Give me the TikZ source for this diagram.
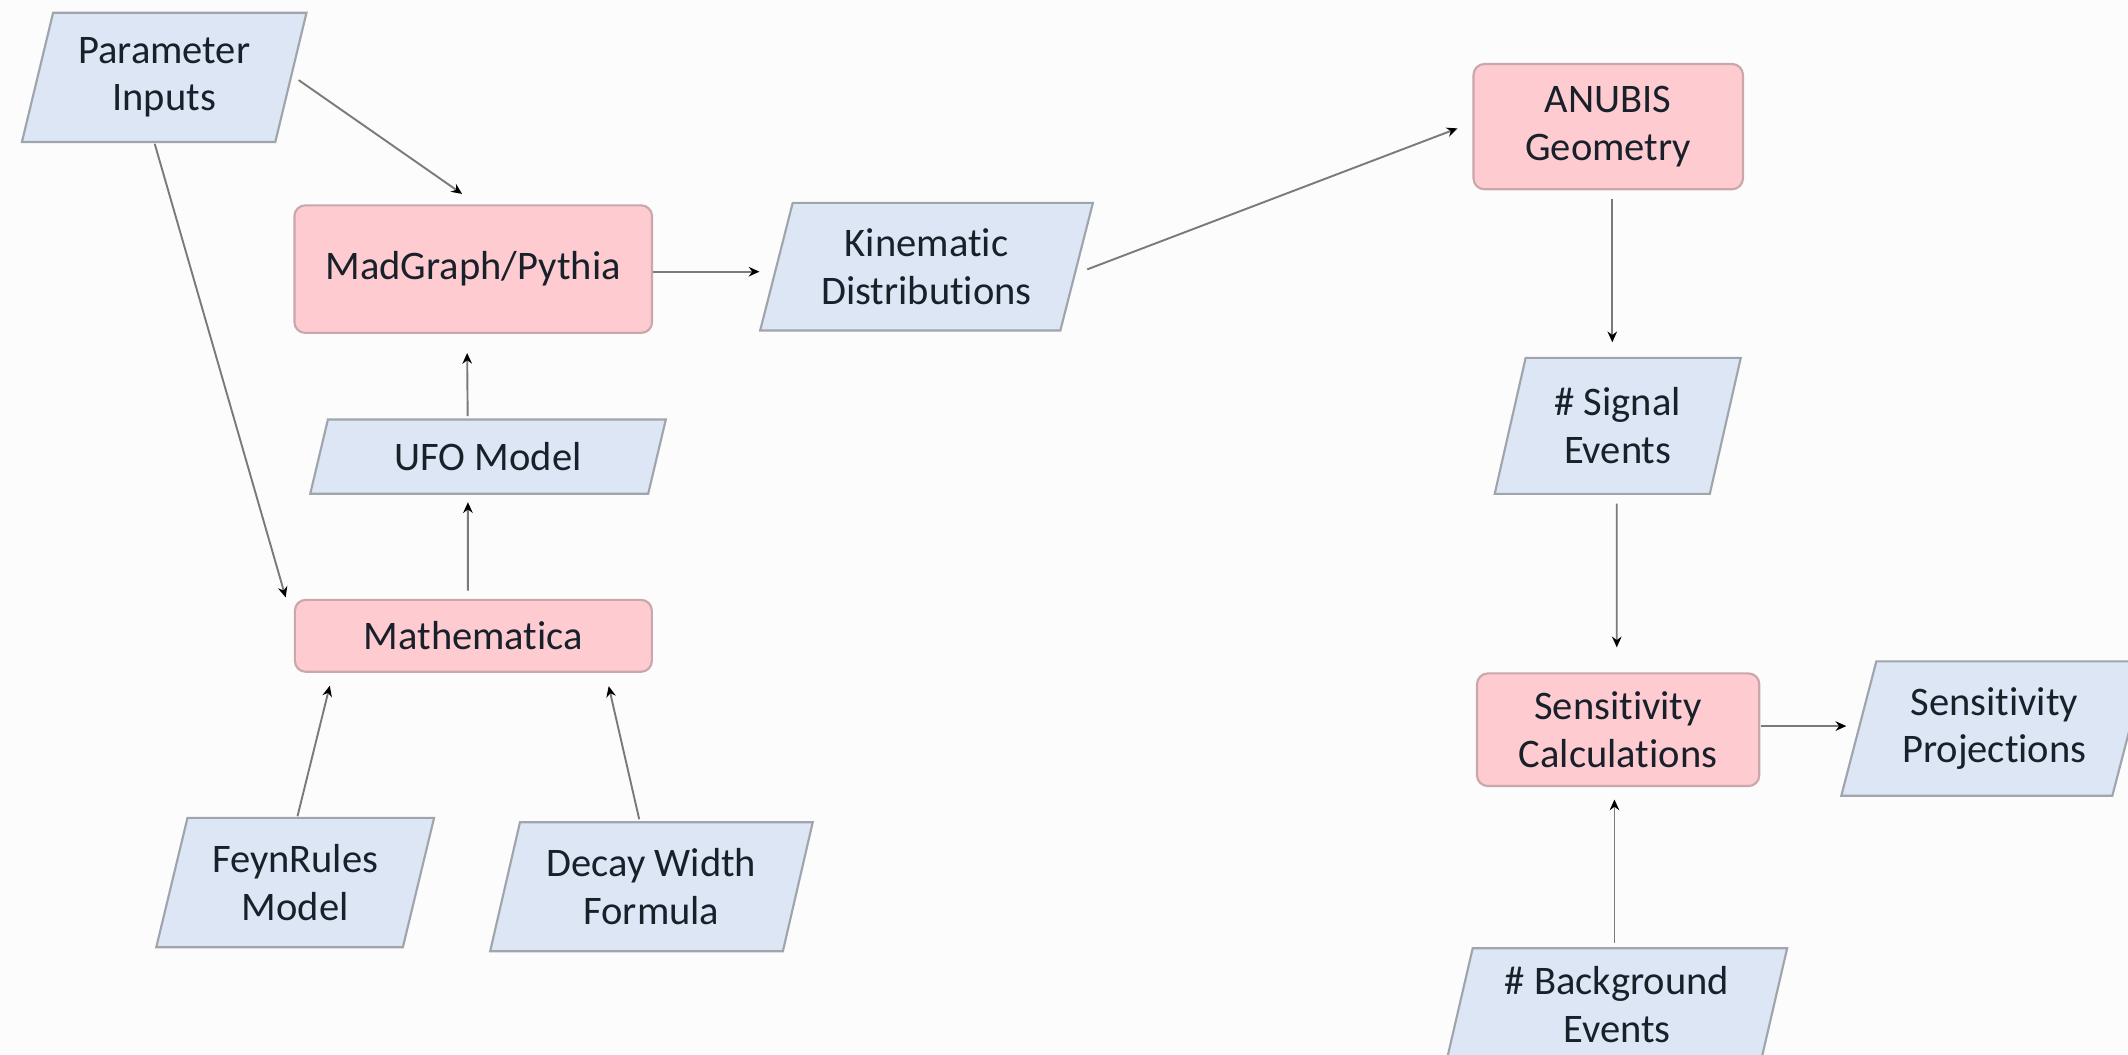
\documentclass[tikz,border=0pt]{standalone}
\usepackage{fontspec}
\setmainfont{Carlito}[Ligatures=NoCommon]
\usetikzlibrary{arrows.meta,calc,backgrounds}
\definecolor{bluefill}{HTML}{DCE6F4}
\definecolor{blueline}{HTML}{A0A5AC}
\definecolor{pinkfill}{HTML}{FDCBD0}
\definecolor{pinkline}{HTML}{C9A7AB}
\definecolor{txt}{HTML}{18202A}
\definecolor{arrline}{HTML}{7A7A7A}
\definecolor{bgcol}{HTML}{FCFCFC}
\newcommand\drawpara[2]{%
  \draw[parashape] ($(#1.north west)+(#2,0)$) -- ($(#1.north east)+(#2,0)$)
    -- ($(#1.south east)+(-#2,0)$) -- ($(#1.south west)+(-#2,0)$) -- cycle;}
\begin{document}
\begin{tikzpicture}[x=0.02cm,y=-0.02cm,
  lbl/.style={font=\fontsize{17}{20}\selectfont, text=txt, align=center, inner sep=0pt},
  sz/.style 2 args={minimum width=#1*0.02cm, minimum height=#2*0.02cm},
  para/.style={lbl},
  proc/.style={lbl, draw=pinkline, fill=pinkfill, rounded corners=0.16cm, line width=0.9pt},
  parashape/.style={draw=blueline, fill=bluefill, line width=0.9pt},
  arr/.style={draw=arrline, line width=0.8pt, -{Stealth[length=4.5pt,width=4pt,black]}},
]
\useasboundingbox (0,0) rectangle (1568,777);

\node[para, sz={186}{94.6}] (PI) at (121,57) {Parameter\\Inputs};
\node[proc, sz={263.5}{94}] (MG) at (348.7,198.3) {MadGraph/Pythia};
\node[para, sz={220.5}{93.4}] (KD) at (682.7,196.5) {Kinematic\\Distributions};
\node[proc, sz={198.5}{92.3}] (AG) at (1185,93.3) {ANUBIS\\Geometry};
\node[para, sz={248.3}{54}] (UFO) at (359.6,336.5) {UFO Model};
\node[proc, sz={263}{53}] (MA) at (348.8,468.5) {Mathematica};
\node[para, sz={181}{94.6}] (FR) at (217.5,650.3) {FeynRules\\Model};
\node[para, sz={215}{94.4}] (DW) at (480,653.4) {Decay Width\\Formula};
\node[para, sz={157.8}{99.5}] (SE) at (1192,313.8) {\# Signal\\Events};
\node[proc, sz={208}{83}] (SC) at (1192.3,537.7) {Sensitivity\\Calculations};
\node[para, sz={199}{98.3}] (SP) at (1469.5,536.8) {Sensitivity\\Projections};
\node[para, sz={231}{82}] (BE) at (1191.4,740) {\# Background\\Events};

\begin{scope}[on background layer]
  \fill[bgcol] (0,0) rectangle (1568,777);
  \clip (0,0) rectangle (1568,777);
  \drawpara{PI}{11.5}
  \drawpara{KD}{12}
  \drawpara{UFO}{6.5}
  \drawpara{FR}{11.5}
  \drawpara{DW}{11}
  \drawpara{SE}{11.4}
  \drawpara{SP}{12.9}
  \drawpara{BE}{9.6}
\end{scope}

\draw[arr] ($(PI.east)+(5.7,2)$) -- ($(MG.north)+(-8.2,-7.6)$);
\draw[arr] ($(PI.south)+(-7,1.3)$) -- ($(MA.north west)+(-6,-1)$);
\draw[arr] ($(MG.east)+(0,1.9)$) -- ($(KD.west)+(-12.5,3.7)$);
\draw[arr] ($(KD.east)+(7.8,2)$) -- ($(AG.west)+(-11,1.3)$);
\draw[arr] ($(UFO.north)+(-15,-2.5)$) -- ($(MG.south)+(-4.5,14)$);
\draw[arr] ($(MA.north)+(-4,-6)$) -- ($(UFO.south)+(-14.8,6.2)$);
\draw[arr] ($(FR.north)+(1.7,-1.2)$) -- ($(MA.south)+(-105.8,9.5)$);
\draw[arr] ($(DW.north)+(-9,-2.2)$) -- ($(MA.south)+(99.7,9.8)$);
\draw[arr] ($(AG.south)+(3,6.5)$) -- ($(SE.north)+(-4,-11.5)$);
\draw[arr] ($(SE.south)+(-0.7,7.2)$) -- ($(SC.north)+(-1,-18.4)$);
\draw[arr] ($(SC.east)+(0.7,-2.7)$) -- ($(SP.west)+(-9.2,-1.8)$);
\draw[arr] ($(BE.north)+(-1.8,-4)$) -- ($(SC.south)+(-2.7,9.1)$);
\end{tikzpicture}
\end{document}
